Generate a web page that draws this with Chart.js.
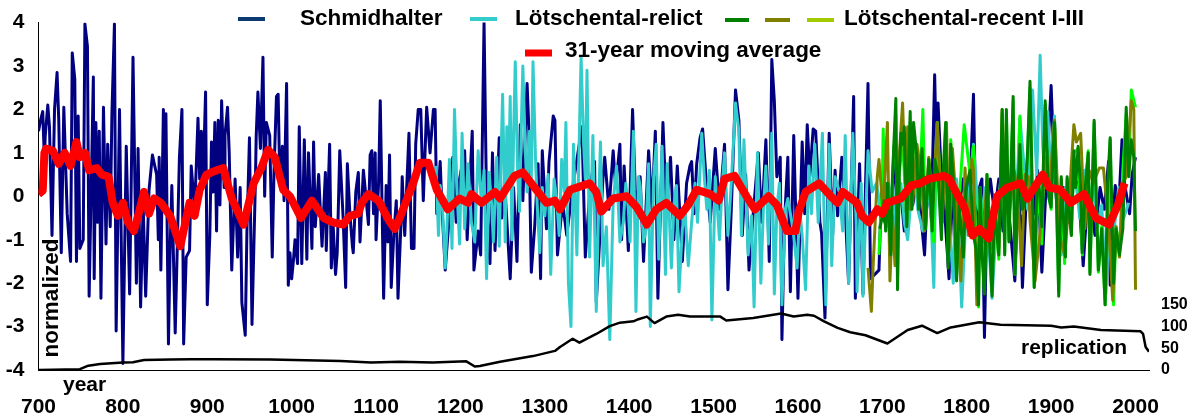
<!DOCTYPE html>
<html>
<head>
    <title>Tree-ring record</title>
    <script src="https://cdn.jsdelivr.net/npm/chart.js"></script>
    <style>
        body { margin: 0; background: #fff; }
        canvas { display: block; }
    </style>
</head>
<body>
    <canvas id="ringChart" width="1194" height="420"></canvas>

    <script>
        // [year, value], peaks and troughs mostly
        const schmidhalter = [[700,1.5],[703,1.8],[705,1.95],[707,.85],[708,1.4],[711,2.1],[713,1.6],[716,-.9],[719,2],[722,2.85],[724,1.75],[727,-1.3],[730,2.05],[734,-.4],[738,-1.5],[740,3.3],[743,2.7],[745,-1.5],[747,1.85],[749,-1.2],[753,-1],[755,3.97],[758,3.45],[760,-2.3],[765,2.75],[766,-1.9],[768,1.7],[770,-.6],[772,1.5],[774,-2.35],[777,2.05],[780,-1.1],[782,1.2],[785,-.7],[787,1.9],[790,3.97],[792,-3.1],[796,2],[800,-3.85],[804,1.15],[808,-2.25],[812,3.2],[816,-2],[818,1.1],[821,-2.55],[824,-.2],[827,-2.3],[831,.15],[835,.95],[840,.5],[842,-1],[843,.9],[845,-1.7],[848,2],[850,-.3],[851,1.9],[854,-3.4],[856,-1.2],[858,.25],[862,-3.15],[867,.9],[870,2],[872,-3.4],[875,-1.4],[879,-1.25],[881,.7],[885,-.3],[887,.7],[889,1.8],[891,.4],[893,1.5],[895,.3],[898,2.4],[900,-2.5],[903,-.9],[905,1.25],[907,.1],[909,1.7],[911,-.8],[913,1.75],[915,-.2],[917,2.2],[920,.2],[921,1.4],[924,2.05],[926,1],[929,-1.7],[933,.4],[936,-1.4],[939,.2],[941,-2.45],[945,-3.2],[947,-.8],[950,1.35],[953,-2.95],[957,.3],[958,1.4],[960,2.4],[963,1.1],[966,3.2],[968,0],[970,1.7],[974,1.4],[977,-1.4],[979,.5],[982,2.3],[984,2.35],[986,.3],[989,1.15],[991,-.1],[994,2.6],[996,-2.05],[998,-1.3],[1000,-1.9],[1002,-1.5],[1004,-1],[1007,-1.55],[1009,1.6],[1012,-1.55],[1015,1.3],[1018,-1.45],[1020,1],[1024,-1.2],[1026,1.25],[1028,-.7],[1032,.5],[1036,-1.15],[1040,.55],[1041,-1.25],[1045,1.2],[1047,-1.65],[1049,-.6],[1052,-1.8],[1054,-1.3],[1057,1.05],[1061,-.5],[1064,-2.1],[1066,.75],[1069,-.4],[1072,-1.15],[1073,-1.3],[1076,.1],[1079,.55],[1081,-1.05],[1085,.6],[1087,.2],[1091,-.65],[1093,.95],[1095,1.05],[1097,-.4],[1099,1],[1100,-1],[1103,.3],[1105,2.2],[1109,-2.35],[1112,.25],[1114,-1.05],[1116,.95],[1118,-2.1],[1121,-.9],[1124,-.1],[1126,-2.35],[1130,-.4],[1131,.45],[1134,-.9],[1139,1.45],[1142,-1.2],[1145,-1.2],[1147,1.2],[1150,2],[1153,2],[1156,-.1],[1160,2.05],[1164,1],[1168,2],[1170,2],[1172,-.4],[1176,.8],[1178,-.2],[1182,-1.7],[1187,-.4],[1191,.9],[1195,-.6],[1199,.4],[1205,1.05],[1208,-1],[1214,1.5],[1216,-1.7],[1221,-.8],[1224,-1.35],[1228,4],[1231,-.2],[1235,-1.55],[1238,1],[1241,-1.25],[1246,1.35],[1249,-.5],[1253,.1],[1259,-1.9],[1263,.2],[1267,-1.5],[1271,1.65],[1274,-.1],[1279,2.6],[1281,1.6],[1284,-1.75],[1288,-.7],[1292,.75],[1295,-1.9],[1297,1.05],[1302,-.75],[1305,.8],[1310,1.85],[1312,1.75],[1315,-1.35],[1321,-.15],[1326,-.9],[1333,.2],[1344,1.6],[1348,-1.4],[1354,.3],[1359,.8],[1361,-2.45],[1369,.45],[1371,.9],[1376,-.3],[1381,1.05],[1384,.2],[1389,1.2],[1391,-1],[1394,.7],[1399,-1.25],[1404,2],[1408,-.3],[1413,.45],[1417,-1.5],[1423,1.05],[1427,-.3],[1431,1.5],[1434,-2.35],[1440,1.7],[1444,-.3],[1449,.9],[1453,-1],[1457,.7],[1463,-1.5],[1468,.3],[1472,.7],[1474,.8],[1477,-.4],[1480,.75],[1484,1.35],[1487,1.55],[1491,.45],[1496,-.6],[1502,1.1],[1507,-.3],[1513,1.2],[1517,-2.15],[1521,-.3],[1526,2.45],[1530,1.75],[1534,-.9],[1538,.5],[1542,-1.7],[1547,-.4],[1553,1],[1557,-.6],[1562,1.3],[1566,-1.5],[1569,3.15],[1572,2.2],[1575,.45],[1579,.9],[1581,-3.3],[1584,-.6],[1588,.9],[1591,-2.2],[1595,1.4],[1600,-2.35],[1605,1.25],[1608,-.4],[1611,1.65],[1614,.45],[1618,1.55],[1621,1.5],[1626,-.6],[1628,-.85],[1632,-2.8],[1637,1.45],[1641,-.9],[1644,.6],[1647,-.45],[1652,.9],[1656,-.3],[1660,-2],[1666,2.3],[1668,-2.35],[1673,.75],[1677,-2.25],[1683,2.6],[1686,-1.9],[1696,-1.7],[1699,.2],[1703,-.6],[1707,.3],[1711,-.4],[1714,1.15],[1718,-.6],[1721,.3],[1726,-.8],[1732,.8],[1736,-.2],[1741,.4],[1745,-.3],[1750,-1.35],[1754,.4],[1758,-.5],[1762,2.8],[1764,1],[1766,2.15],[1770,.4],[1774,-.4],[1779,-1.9],[1784,.5],[1790,-.5],[1795,.4],[1800,-.3],[1805,.8],[1808,2.35],[1811,-.9],[1815,.2],[1818,.4],[1821,-3.25],[1824,-.3],[1828,.4],[1833,-.4],[1838,.4],[1843,-.8],[1847,.3],[1851,-.6],[1857,-1.95],[1862,.6],[1866,-2.1],[1871,.2],[1875,.8],[1880,-.4],[1884,.6],[1889,-1.75],[1895,.6],[1900,2.55],[1904,.5],[1910,-1],[1915,.2],[1920,-.6],[1926,.4],[1932,.3],[1938,-1.6],[1944,.2],[1952,-.9],[1958,.2],[1963,-.3],[1968,.8],[1970,-2.05],[1973,-.6],[1976,.25],[1980,-.3],[1984,1.3],[1987,.3],[1993,-.4],[1996,.5],[2000,.9]];

        const relict = [[1171,.7],[1174,-.9],[1176,.25],[1179,-.36],[1182,-1.65],[1184,-.75],[1187,.85],[1190,-1.2],[1193,2],[1196,.1],[1199,-1.1],[1202,1.45],[1205,-.75],[1209,.75],[1213,-.6],[1217,-1.05],[1221,1.05],[1225,-.2],[1228,.6],[1231,-1.9],[1234,.55],[1237,-.2],[1239,-1.05],[1243,.9],[1246,-1.15],[1248,.8],[1250,2.35],[1252,.3],[1253,-1.05],[1255,1.6],[1257,.25],[1259,2.3],[1261,-1],[1263,1.4],[1265,3.1],[1268,.45],[1270,-.35],[1272,1.5],[1274,3],[1277,1],[1279,.1],[1282,1.5],[1284,.4],[1286,3.1],[1289,.85],[1291,-.2],[1294,-1.3],[1297,.2],[1300,-.45],[1304,.5],[1307,-1.8],[1311,.4],[1314,-.05],[1317,-.9],[1320,.85],[1323,.1],[1325,1.7],[1328,-2],[1331,-3],[1334,1.2],[1336,-.1],[1338,-1.35],[1341,1.5],[1343,3.2],[1346,1.2],[1348,.4],[1350,2.9],[1353,-1.4],[1357,1.4],[1361,-2.65],[1364,0],[1366,1.25],[1369,-1.6],[1373,-.7],[1377,-3.3],[1381,-.15],[1385,.7],[1389,-1.05],[1393,-.6],[1396,.3],[1399,-.3],[1401,-1.05],[1405,1.5],[1408,-2.65],[1411,.45],[1413,.25],[1417,-1.05],[1420,-.75],[1423,.75],[1425,-3],[1429,.45],[1432,1.2],[1435,-1.45],[1439,1.15],[1443,-1.8],[1445,.75],[1450,-1.65],[1453,-.2],[1456,.25],[1459,-2.2],[1463,-.75],[1466,-.3],[1470,-1.6],[1474,-.6],[1478,.3],[1481,-.6],[1486,1.45],[1489,.45],[1492,-.3],[1495,.6],[1498,-2.85],[1502,.45],[1507,-1],[1510,.2],[1513,1],[1517,-.9],[1521,.3],[1526,2.15],[1530,1.5],[1533,-.9],[1536,1.3],[1541,-1.35],[1545,-.45],[1548,-2.55],[1552,1],[1556,-2],[1559,-.3],[1562,.7],[1565,-1.1],[1569,1.45],[1572,-2.25],[1575,-.3],[1578,.3],[1581,-2.5],[1585,-.3],[1588,-.05],[1594,-.75],[1599,-1.65],[1602,-.3],[1605,-.9],[1609,-2.15],[1613,.7],[1616,-.4],[1620,1.2],[1624,-.6],[1629,1.45],[1633,-2.5],[1637,1.2],[1640,-1.6],[1644,.45],[1649,.1],[1653,-.8],[1656,1.4],[1660,-2],[1665,1.45],[1669,-.6],[1670,-2.2],[1675,.3],[1677,-2.3],[1683,1.05],[1688,.1],[1693,.3],[1699,-.5],[1703,.3],[1707,-.7],[1712,.3],[1716,-.9],[1722,.3],[1726,-.6],[1730,-1],[1735,.2],[1738,.6],[1742,-.3],[1748,-.8],[1755,.2],[1758,-.6],[1761,-2.1],[1764,1.4],[1770,-.3],[1775,.7],[1780,-.7],[1784,-2],[1788,.4],[1794,-2.55],[1799,-.5],[1804,.3],[1808,1.2],[1813,-.2],[1817,-.5],[1822,.2],[1826,-1],[1830,-2.35],[1836,-.3],[1842,.6],[1848,-.4],[1853,.5],[1858,-.5],[1863,1.8],[1868,.7],[1872,-.3],[1878,2.45],[1883,.5],[1887,3.25],[1890,1.2],[1893,.2],[1896,1.95],[1900,.4],[1904,1.85],[1908,-.4],[1912,-1.35],[1917,.2],[1923,-.4],[1928,.6],[1934,-.5],[1940,.6],[1945,-.3],[1950,.4],[1955,-.7],[1960,-.2],[1965,-2.25],[1970,.2],[1974,-.9],[1980,.2],[1986,-.5],[1992,-.15]];

        const recentGreen = [[1697,-.75],[1700,-.45],[1702,-.1],[1704,-.8],[1706,.3],[1710,-1.35],[1712,.45],[1716,2.25],[1718,-2.15],[1720,.5],[1722,1.45],[1724,1.2],[1726,1.6],[1729,-.7],[1733,1.95],[1735,-.3],[1737,1.7],[1741,.9],[1743,-.3],[1747,1.1],[1751,-.75],[1755,.85],[1759,-.8],[1762,.85],[1766,.5],[1770,-1],[1772,.5],[1775,1.7],[1778,-1.65],[1781,1.2],[1784,.4],[1788,-1.95],[1791,-.15],[1796,-1.4],[1799,.2],[1804,.6],[1808,-.9],[1811,-1.2],[1814,-2.5],[1816,.2],[1818,-1.3],[1821,-2.25],[1824,.5],[1827,-1.05],[1830,-2.3],[1833,-.3],[1836,-.9],[1838,-1.35],[1842,2],[1845,-1.35],[1847,2],[1850,-1.05],[1855,2.3],[1857,-1.8],[1860,-.15],[1863,1.2],[1866,-.3],[1869,-.15],[1872,1],[1875,2.65],[1880,-2.1],[1883,.2],[1885,.45],[1889,-.7],[1891,.9],[1893,2.2],[1897,0],[1900,-.25],[1902,.8],[1904,1.7],[1907,-.6],[1909,-2.3],[1912,.45],[1917,-1.4],[1919,.45],[1921,-.3],[1924,-.9],[1927,1.05],[1929,.2],[1932,1.15],[1935,.2],[1937,-1.3],[1940,.1],[1944,1],[1946,-1.8],[1949,.4],[1951,1.75],[1954,-.4],[1956,-1.7],[1960,-.75],[1964,-2.5],[1967,.3],[1970,1.35],[1974,-2],[1977,-.75],[1981,-1.35],[1985,-.75],[1989,2.05],[1992,.45],[1995,1.3],[1998,.9],[2000,-.8]];

        const recentOlive = [[1683,-1.65],[1687,-2.65],[1689,-1.65],[1694,.45],[1696,.85],[1701,-.35],[1706,1.7],[1709,-1.95],[1712,-.45],[1715,-1.6],[1719,.6],[1724,2.15],[1727,.3],[1730,1.6],[1733,-.3],[1736,-.15],[1741,1.2],[1746,.5],[1750,-.8],[1755,.9],[1760,-.15],[1765,1.7],[1768,.45],[1771,-.6],[1776,1.7],[1779,-1.25],[1783,1.1],[1788,-.3],[1793,-1.95],[1798,.65],[1802,-.9],[1806,.85],[1808,.6],[1812,-2.5],[1815,-.4],[1819,-1.05],[1824,.4],[1829,-1.2],[1833,-.2],[1838,-1.2],[1842,2],[1846,-.4],[1851,-.3],[1856,.6],[1860,.2],[1865,-1.6],[1869,.5],[1873,.45],[1875,-.55],[1881,-1.95],[1887,-.8],[1893,.9],[1898,.15],[1904,1.75],[1910,-.9],[1916,-1.35],[1921,-.2],[1927,1.65],[1930,1.25],[1935,1.45],[1940,-.75],[1945,.6],[1950,.3],[1957,.65],[1962,.65],[1968,-.6],[1973,-2.4],[1977,-.7],[1981,-1.4],[1985,.3],[1989,.45],[1995,2.2],[1998,2],[2000,-2.15]];

        const recentLime = [[1696,-1.35],[1700,.3],[1701,1.55],[1704,-.8],[1706,.3],[1710,-1.2],[1712,.45],[1716,1.9],[1718,-1.9],[1720,.5],[1724,1.3],[1729,-.6],[1733,1.7],[1735,-.3],[1737,1.4],[1741,.9],[1743,-.3],[1748,2],[1751,-.75],[1755,.85],[1759,-.8],[1761,-1.05],[1765,1.7],[1771,-.5],[1775,1.6],[1778,-1.5],[1781,1.3],[1784,.4],[1788,-1.8],[1791,-.1],[1797,1.65],[1804,.5],[1808,1.15],[1811,-1.1],[1814,-2.55],[1816,.2],[1821,-2.2],[1824,.5],[1830,-2.2],[1833,-.3],[1838,-1.45],[1842,1.9],[1845,-1.3],[1847,1.9],[1850,-1],[1855,2.2],[1857,-1.8],[1860,-.15],[1863,1.85],[1866,-.4],[1872,.9],[1875,2.5],[1880,-2.1],[1885,.4],[1889,-1.1],[1893,2.1],[1897,0],[1900,-.3],[1904,1.75],[1909,-2.2],[1912,.4],[1916,-1.55],[1919,.4],[1924,-.9],[1927,1],[1932,1.1],[1937,-1.35],[1940,.1],[1944,1.05],[1946,-1.75],[1951,1.7],[1956,-1.75],[1960,-.7],[1964,-2.5],[1970,1.3],[1974,-2.5],[1977,-.7],[1981,-1.3],[1985,.6],[1989,1.9],[1992,.5],[1995,2.45],[2000,2.05]];

        const movingAverage = [[700,.05],[705,.13],[707,1],[709,1.1],[717,1.05],[724,.75],[731,1],[738,.7],[745,1.25],[749,.9],[755,1],[760,.6],[769,.65],[775,.5],[783,.45],[788,-.15],[794,-.45],[800,-.15],[806,-.6],[813,-.8],[818,-.45],[825,.1],[831,-.4],[837,-.05],[845,-.15],[856,-.45],[868,-1.15],[879,-.15],[885,-.45],[891,.15],[899,.5],[911,.6],[919,.65],[929,-.05],[943,-.65],[955,.3],[964,.65],[972,1.07],[980,.9],[990,.15],[998,0],[1011,-.5],[1024,-.1],[1038,-.5],[1049,-.6],[1061,-.65],[1069,-.45],[1079,-.4],[1083,-.15],[1091,.05],[1103,-.1],[1115,-.55],[1122,-.75],[1128,-.5],[1144,.3],[1152,.77],[1162,.77],[1172,.15],[1185,-.3],[1199,-.05],[1209,-.15],[1213,.05],[1225,-.15],[1241,.1],[1247,-.05],[1264,.47],[1274,.55],[1286,.25],[1302,-.15],[1312,-.1],[1318,-.3],[1330,.15],[1338,.2],[1353,.3],[1361,.1],[1367,-.35],[1381,-.05],[1397,0],[1409,-.25],[1421,-.65],[1432,-.3],[1444,-.15],[1460,-.45],[1470,-.2],[1480,.15],[1496,.05],[1506,-.1],[1513,.4],[1525,.47],[1539,0],[1549,-.3],[1565,0],[1575,-.2],[1587,-.8],[1597,-.8],[1601,-.35],[1609,.1],[1625,.3],[1639,0],[1647,-.15],[1653,.1],[1670,-.15],[1676,-.45],[1684,-.6],[1694,-.3],[1700,-.4],[1706,-.15],[1722,-.05],[1734,.25],[1745,.3],[1755,.4],[1773,.47],[1779,.4],[1797,-.25],[1807,-.9],[1815,-.75],[1826,-.97],[1836,0],[1848,.2],[1864,.3],[1872,-.05],[1890,.5],[1898,.2],[1911,.15],[1923,-.15],[1939,.05],[1953,-.5],[1969,-.65],[1979,-.2],[1987,.3]];

        // number of series per year, right hand axis
        const replication = [[700,0],[749,2],[759,10],[773,14],[800,17],[812,18],[825,23],[857,24],[880,25],[908,25],[975,24],[1058,21],[1094,17],[1128,19],[1167,17],[1207,20],[1217,8],[1223,9],[1247,19],[1286,32],[1312,44],[1318,53],[1333,72],[1341,63],[1361,83],[1377,101],[1389,109],[1405,112],[1411,117],[1421,123],[1430,108],[1444,123],[1458,127],[1472,123],[1508,123],[1515,114],[1547,120],[1580,130],[1595,123],[1611,127],[1619,125],[1631,112],[1647,97],[1662,87],[1680,80],[1706,61],[1730,92],[1747,102],[1765,85],[1781,98],[1815,110],[1840,104],[1900,102],[1912,98],[1927,100],[1959,92],[2006,89],[2009,83],[2012,53],[2016,42]];

        const replicationTicks = [0, 50, 100, 150];

        const legendNames = ['Schmidhalter', 'Lötschental-relict', 'Lötschental-recent I-III', '31-year moving average'];
        const legendColors = ['#0b3b70', '#33cccc', '#008000', '#808000', '#a2cc00', '#ff0000'];

        const fontFamily = '"Liberation Sans", Arial, sans-serif';

        function lineSet(label, pairs, color, width, order, axis) {
            return {
                label: label,
                data: pairs.map(p => ({ x: p[0], y: p[1] })),
                borderColor: color,
                borderWidth: width,
                borderJoinStyle: 'round',
                pointRadius: 0,
                tension: 0,
                order: order,
                yAxisID: axis || 'y'
            };
        }

        // legend and loose labels sit where the original has them
        const looseText = {
            id: 'looseText',
            afterDraw(chart) {
                const ctx = chart.ctx;
                ctx.save();
                ctx.fillStyle = '#000';
                ctx.font = 'bold 22.5px ' + fontFamily;
                ctx.textBaseline = 'middle';
                ctx.fillText(legendNames[0], 300, 19);
                ctx.fillText(legendNames[1], 515, 19);
                ctx.fillText(legendNames[2], 844, 19);
                ctx.fillText(legendNames[3], 565, 51);
                ctx.font = 'bold 21px ' + fontFamily;
                ctx.fillText('year', 63, 385);
                ctx.fillText('replication', 1021, 348);
                ctx.save();
                ctx.translate(52, 298);
                ctx.rotate(-Math.PI / 2);
                ctx.textAlign = 'center';
                ctx.font = 'bold 22.5px ' + fontFamily;
                ctx.fillText('normalized', 0, 0);
                ctx.restore();

                const keys = [[238, 265, 19], [470, 497, 19], [725, 749, 20], [765, 790, 20], [807, 834, 20], [525, 552, 53]];
                keys.forEach((k, i) => {
                    ctx.strokeStyle = legendColors[i];
                    ctx.lineWidth = i === 5 ? 7 : 4;
                    ctx.beginPath();
                    ctx.moveTo(k[0], k[2]);
                    ctx.lineTo(k[1], k[2]);
                    ctx.stroke();
                });
                ctx.restore();
            }
        };

        new Chart(document.getElementById('ringChart').getContext('2d'), {
            type: 'line',
            data: {
                datasets: [
                    lineSet(legendNames[0], schmidhalter, '#000080', 3, 7),
                    lineSet(legendNames[1], relict, '#33cccc', 3, 6),
                    lineSet('recent III', recentLime, '#00ff00', 3, 5),
                    lineSet('recent II', recentOlive, '#808000', 3, 4),
                    lineSet('recent I', recentGreen, '#008000', 3, 3),
                    lineSet('replication', replication, '#000000', 2.5, 2, 'y2'),
                    lineSet(legendNames[3], movingAverage, '#ff0000', 8, 1)
                ]
            },
            options: {
                responsive: false,
                animation: false,
                layout: { padding: { top: 18 } },
                plugins: { legend: { display: false }, tooltip: { enabled: false } },
                scales: {
                    x: {
                        type: 'linear',
                        min: 700,
                        max: 2016,
                        afterFit: s => { s.height = 50; },
                        grid: { display: false, drawTicks: true, tickLength: 5, tickColor: '#000' },
                        border: { color: '#000' },
                        ticks: {
                            stepSize: 100,
                            includeBounds: false,
                            autoSkip: false,
                            maxRotation: 0,
                            padding: 20,
                            color: '#000',
                            callback: v => String(v),
                            font: { family: fontFamily, size: 21, weight: 'bold' }
                        }
                    },
                    y: {
                        min: -4,
                        max: 4,
                        afterFit: s => { s.width = 38.5; },
                        grid: { display: false, tickLength: 4, tickColor: '#000' },
                        border: { color: '#000' },
                        ticks: {
                            stepSize: 1,
                            padding: 10,
                            color: '#000',
                            font: { family: fontFamily, size: 21, weight: 'bold' }
                        }
                    },
                    y2: {
                        position: 'right',
                        min: 0,
                        max: 800,
                        afterFit: s => { s.width = 45; },
                        afterBuildTicks: s => { s.ticks = replicationTicks.map(v => ({ value: v })); },
                        grid: { display: false, drawTicks: false },
                        border: { display: false },
                        ticks: {
                            padding: 12,
                            color: '#000',
                            font: { family: fontFamily, size: 16, weight: 'bold' }
                        }
                    }
                }
            },
            plugins: [looseText]
        });
    </script>
</body>
</html>
